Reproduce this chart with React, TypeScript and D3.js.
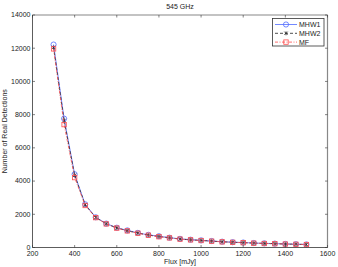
import React from "react";
import * as d3 from "d3";

const fluxes = [300, 350, 400, 450, 500, 550, 600, 650, 700, 750, 800, 850, 900, 950, 1000, 1050, 1100, 1150, 1200, 1250, 1300, 1350, 1400, 1450, 1500];
const mhw1 = [12220, 7760, 4410, 2600, 1820, 1440, 1190, 1030, 880, 760, 680, 590, 520, 470, 430, 390, 350, 320, 300, 270, 250, 235, 215, 200, 185];
const mhw2 = [12050, 7650, 4350, 2570, 1810, 1430, 1180, 1010, 870, 750, 660, 585, 510, 465, 425, 385, 345, 315, 295, 265, 245, 230, 210, 195, 180];
const mf = [11960, 7400, 4210, 2530, 1800, 1420, 1170, 1000, 860, 740, 650, 580, 505, 460, 420, 380, 340, 310, 290, 260, 240, 228, 208, 193, 178];
const xTicks = [200, 400, 600, 800, 1000, 1200, 1400, 1600];
const yTicks = [0, 2000, 4000, 6000, 8000, 10000, 12000, 14000];
const seriesNames = ["MHW1", "MHW2", "MF"];
const title = "545 GHz";
const xLabel = "Flux [mJy]";
const yLabel = "Number of Real Detections";

const W = 338, H = 267;
const L = 32.5, R = 327.5, T = 15, B = 247.5;
const FONT = "'Liberation Sans', Arial, sans-serif";

export default function App() {
  const x = d3.scaleLinear().domain([200, 1600]).range([L, R]);
  const y = d3.scaleLinear().domain([0, 14000]).range([B, T]);
  const line = d3.line<number>().x((_, i) => x(fluxes[i])).y((d) => y(d));
  const colors = ["#4f6bff", "#222", "#ff4d4d"];
  const dashes = [undefined, "3,2", "3,1.5,1,1.5"];
  const datas = [mhw1, mhw2, mf];

  const marker = (k: number, cx: number, cy: number, key: string) => {
    if (k === 0) return <circle key={key} cx={cx} cy={cy} r={2.6} fill="none" stroke={colors[0]} strokeWidth={0.8} />;
    if (k === 1)
      return (
        <g key={key} stroke={colors[1]} strokeWidth={0.7}>
          <line x1={cx - 1.7} y1={cy - 1.7} x2={cx + 1.7} y2={cy + 1.7} />
          <line x1={cx - 1.7} y1={cy + 1.7} x2={cx + 1.7} y2={cy - 1.7} />
          <line x1={cx} y1={cy - 2} x2={cx} y2={cy + 2} />
        </g>
      );
    return <rect key={key} x={cx - 2.2} y={cy - 2.2} width={4.4} height={4.4} fill="none" stroke={colors[2]} strokeWidth={0.8} />;
  };

  return (
    <svg width={W} height={H} style={{ position: "absolute", left: 0, top: 0, background: "#fff" }}>
      <rect x={0} y={0} width={W} height={H} fill="#fff" />
      <text x={(L + R) / 2} y={9} fontSize={7} fontFamily={FONT} textAnchor="middle" fill="#222">{title}</text>
      {/* data */}
      {datas.map((d, k) => (
        <g key={k}>
          <path d={line(d) || ""} fill="none" stroke={colors[k]} strokeWidth={0.8} strokeDasharray={dashes[k]} />
          {d.map((v, i) => marker(k, x(fluxes[i]), y(v), `${k}-${i}`))}
        </g>
      ))}
      {/* axes box */}
      <line x1={L} y1={T} x2={R} y2={T} stroke="#888" strokeWidth={1.2} />
      <line x1={R} y1={T} x2={R} y2={B} stroke="#888" strokeWidth={1.2} />
      <line x1={L} y1={T} x2={L} y2={B} stroke="#333" strokeWidth={0.8} />
      <line x1={L} y1={B} x2={R} y2={B} stroke="#333" strokeWidth={0.8} />
      {xTicks.map((t) => (
        <g key={`x${t}`}>
          <line x1={x(t)} y1={B} x2={x(t)} y2={B - 2.5} stroke="#333" strokeWidth={0.6} />
          <line x1={x(t)} y1={T} x2={x(t)} y2={T + 2.5} stroke="#333" strokeWidth={0.6} />
          <text x={x(t)} y={B + 8.5} fontSize={7} fontFamily={FONT} textAnchor="middle" fill="#222">{t}</text>
        </g>
      ))}
      {yTicks.map((t) => (
        <g key={`y${t}`}>
          <line x1={L} y1={y(t)} x2={L + 2.5} y2={y(t)} stroke="#333" strokeWidth={0.6} />
          <line x1={R} y1={y(t)} x2={R - 2.5} y2={y(t)} stroke="#333" strokeWidth={0.6} />
          <text x={L - 2} y={y(t) + 2.3} fontSize={7} fontFamily={FONT} textAnchor="end" fill="#222">{t}</text>
        </g>
      ))}
      <text x={(L + R) / 2} y={264} fontSize={7} fontFamily={FONT} textAnchor="middle" fill="#222">{xLabel}</text>
      <text transform={`translate(6.5,${(T + B) / 2}) rotate(-90)`} fontSize={7} fontFamily={FONT} textAnchor="middle" fill="#222">{yLabel}</text>
      {/* legend */}
      <rect x={272.5} y={18.5} width={51.5} height={27.5} fill="#fff" stroke="#333" strokeWidth={0.8} />
      {seriesNames.map((n, k) => {
        const ly = 24.5 + k * 8.8;
        return (
          <g key={n}>
            <line x1={275} y1={ly} x2={297} y2={ly} stroke={colors[k]} strokeWidth={0.8} strokeDasharray={dashes[k]} />
            {marker(k, 286, ly, `lg${k}`)}
            <text x={299} y={ly + 2.5} fontSize={7} fontFamily={FONT} fill="#222">{n}</text>
          </g>
        );
      })}
    </svg>
  );
}
